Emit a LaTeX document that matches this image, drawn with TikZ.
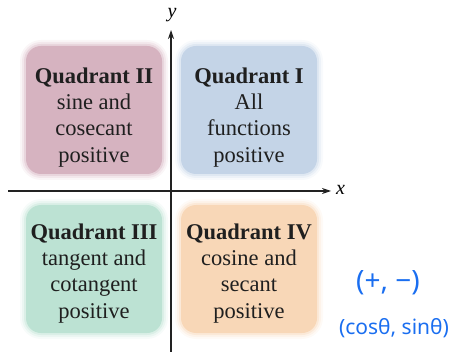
\documentclass[tikz,border=0pt]{standalone}
\usepackage{fontspec}
\setmainfont{LiberationSerif}[Extension=.ttf, UprightFont=*-Regular, BoldFont=*-Bold, ItalicFont=*-Italic, BoldItalicFont=*-BoldItalic]
\newfontfamily\handfont{Noto Sans}
\usetikzlibrary{arrows.meta}
\definecolor{qtwo}{HTML}{D6B3C0}
\definecolor{qone}{HTML}{C4D4E7}
\definecolor{qthree}{HTML}{BCE2D3}
\definecolor{qfour}{HTML}{F8D7B7}
\definecolor{axiscol}{HTML}{222222}
\definecolor{inkblue}{HTML}{1A6EF0}
\tikzset{
  qbox/.style={minimum width=136pt, minimum height=128pt, rounded corners=15pt, inner sep=0pt},
  glowa/.style={minimum width=148pt, minimum height=140pt, rounded corners=21pt, inner sep=0pt, opacity=0.12},
  glowb/.style={minimum width=144pt, minimum height=136pt, rounded corners=19pt, inner sep=0pt, opacity=0.2},
  glowc/.style={minimum width=140pt, minimum height=132pt, rounded corners=17pt, inner sep=0pt, opacity=0.35},
  qtext/.style={align=center, inner sep=0pt, anchor=north, text=black!88, font=\rmfamily\fontsize{22.5}{26.3}\selectfont},
  axis/.style={draw=axiscol, line width=1.1pt, -{Stealth[length=9pt,width=6pt]}},
  axlabel/.style={font=\rmfamily\fontsize{20}{22}\selectfont\itshape, inner sep=0pt},
  ink/.style={text=inkblue, inner sep=0pt, font=\handfont}
}
\begin{document}
\begin{tikzpicture}[x=1pt,y=-1pt]
\useasboundingbox (0,0) rectangle (470,352);
% quadrant boxes (soft edges)
\foreach \nm/\cx/\cy/\col in {2/94/110/qtwo, 1/249/110/qone, 3/94/269/qthree, 4/249/269/qfour}{
  \node[glowa, fill=\col] (ga\nm) at (\cx,\cy) {};
  \node[glowb, fill=\col] (gb\nm) at (\cx,\cy) {};
  \node[glowc, fill=\col] (gc\nm) at (\cx,\cy) {};
  \node[qbox, fill=\col] (b\nm) at (\cx,\cy) {};
}
% texts
\node[qtext] (t2) at (94,67.5) {\textbf{Quadrant II}\\sine and\\cosecant\\positive};
\node[qtext] (t1) at (249,67.5) {\textbf{Quadrant I}\\All\\functions\\positive};
\node[qtext] (t3) at (94,223.5) {\textbf{Quadrant III}\\tangent and\\cotangent\\positive};
\node[qtext] (t4) at (249,223.5) {\textbf{Quadrant IV}\\cosine and\\secant\\positive};
% axes
\coordinate (xs) at (8,191);
\coordinate (xe) at (331,191);
\coordinate (ys) at (171,352);
\coordinate (ye) at (171,30);
\draw[axis] (xs) -- (xe);
\draw[axis] (ys) -- (ye);
\node[axlabel, anchor=west] (xl) at (336,190) {x};
\node[axlabel] (yl) at (172,15) {y};
% handwritten annotation
\node[ink, font=\handfont\fontsize{28}{30}\selectfont] (pm) at (388,283) {(+, −)};
\node[ink, font=\handfont\fontsize{21}{24}\selectfont] (cs) at (394,328) {(cosθ, sinθ)};
\end{tikzpicture}
\end{document}
